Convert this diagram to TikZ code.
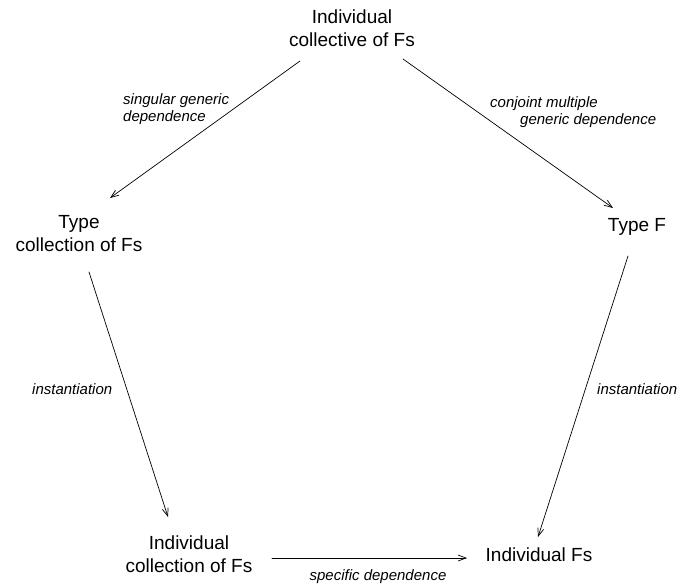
\documentclass[tikz,border=0pt]{standalone}
\usepackage{fontspec}
\setmainfont{Liberation Sans}
\usetikzlibrary{arrows.meta,calc,positioning}

\begin{document}
\begin{tikzpicture}[x=1pt,y=-1pt,line join=round,line cap=round,
  box/.style={align=center,inner sep=0pt,font=\fontsize{19}{23}\selectfont},
  lab/.style={align=left,inner sep=0pt,font=\fontsize{15}{17}\selectfont\itshape},
  arr/.style={line width=0.7pt,-{Straight Barb[length=8pt,width=6pt]}}]
\useasboundingbox (0,0) rectangle (681,587);
\node[box] (top) at (352,28) {Individual\\collective of Fs};
\node[box] (tcoll) at (79,234) {Type\\collection of Fs};
\node[box] (typef) at (637,227) {Type F};
\node[box] (icoll) at (189,554) {Individual\\collection of Fs};
\node[box] (ifs) at (539,555) {Individual Fs};
% labels
\node[lab,anchor=west] (lsg) at (123,109) {singular generic\\dependence};
\node[lab,anchor=west] (lcj) at (490,112) {conjoint multiple\\\hspace*{30pt}generic dependence};
\node[lab,anchor=west] (linl) at (32,389) {instantiation};
\node[lab,anchor=west] (linr) at (597,389) {instantiation};
\node[lab] (lsd) at (378,577) {specific dependence};
% arrows
\foreach \a/\ax/\ay/\b/\bx/\by in {top/-52/33/tcoll/31/-36,top/51/31/typef/-24/-19,
  tcoll/10/38/icoll/-21/-37,typef/-9/29/ifs/-1/-18,icoll/83/4/ifs/-72/3}
  {\draw[arr] ($(\a)+(\ax,\ay)$) -- ($(\b)+(\bx,\by)$);}
\end{tikzpicture}
\end{document}
